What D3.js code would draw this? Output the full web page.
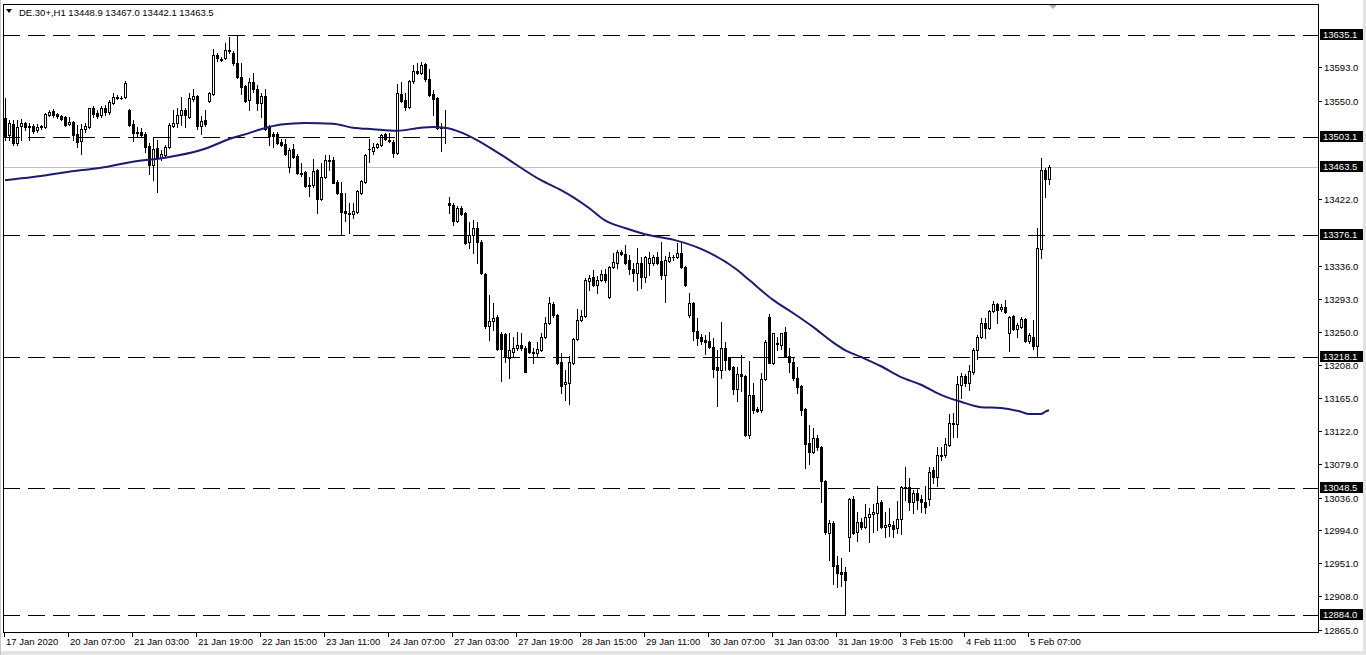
<!DOCTYPE html>
<html>
<head>
<meta charset="utf-8">
<script src="https://cdn.jsdelivr.net/npm/d3@7"></script>
<style>
    body { margin: 0; background: #fff; overflow: hidden; }
    svg text { font-family: "Liberation Sans", Arial, sans-serif; font-size: 9.5px; }
</style>
</head>
<body>
<svg id="chart" width="1366" height="655"></svg>
<script>
// DE.30+ H1 bars, 17 Jan 2020 -> 5 Feb 2020
const opens = [
    13528, 13505, 13520, 13495, 13517, 13521, 13517, 13517, 13512, 13516,
    13516, 13531, 13537, 13533, 13530, 13529, 13520, 13522, 13507, 13498,
    13513, 13516, 13540, 13534, 13531, 13541, 13535, 13547, 13554, 13554,
    13555, 13538, 13520, 13509, 13509, 13507, 13491, 13467, 13489, 13476,
    13480, 13490, 13517, 13521, 13531, 13538, 13529, 13552, 13556, 13517,
    13525, 13550, 13559, 13609, 13604, 13605, 13614, 13612, 13599, 13581,
    13569, 13551, 13574, 13565, 13547, 13556, 13516, 13507, 13507, 13496,
    13494, 13464, 13487, 13478, 13456, 13458, 13441, 13441, 13460, 13423,
    13451, 13473, 13473, 13445, 13430, 13407, 13404, 13403, 13406, 13430,
    13445, 13487, 13485, 13490, 13493, 13507, 13499, 13496, 13482, 13559,
    13551, 13542, 13575, 13589, 13586, 13598, 13578, 13559, 13554, 13516,
    13516, 13417, 13415, 13394, 13411, 13404, 13367, 13376, 13385, 13367,
    13326, 13258, 13264, 13270, 13248, 13248, 13217, 13224, 13230, 13234,
    13230, 13238, 13224, 13223, 13227, 13244, 13262, 13287, 13272, 13211,
    13183, 13184, 13210, 13241, 13266, 13271, 13316, 13322, 13311, 13318,
    13326, 13296, 13335, 13340, 13354, 13352, 13344, 13332, 13327, 13340,
    13322, 13340, 13340, 13348, 13342, 13324, 13342, 13348, 13348, 13353,
    13335, 13272, 13288, 13252, 13244, 13240, 13239, 13231, 13205, 13201,
    13230, 13217, 13205, 13176, 13196, 13193, 13117, 13169, 13151, 13149,
    13189, 13270, 13210, 13236, 13234, 13250, 13219, 13211, 13191, 13180,
    13151, 13107, 13095, 13113, 13101, 13057, 12990, 13003, 12948, 12939,
    12939, 12985, 13034, 12991, 13004, 12998, 13011, 13015, 13016, 13030,
    12998, 12999, 13000, 12996, 13008, 13048, 13050, 13030, 13042, 13034,
    13030, 13034, 13072, 13063, 13090, 13091, 13104, 13131, 13131, 13182,
    13193, 13184, 13199, 13227, 13244, 13262, 13256, 13278, 13287, 13280,
    13283, 13249, 13271, 13254, 13257, 13267, 13239, 13244, 13232, 13358,
    13460, 13448.9
];
const highs = [
    13553, 13525, 13525, 13525, 13526, 13522, 13521, 13520, 13520, 13519,
    13534, 13538, 13539, 13534, 13531, 13530, 13529, 13524, 13518, 13520,
    13521, 13541, 13543, 13538, 13543, 13544, 13551, 13560, 13557, 13556,
    13576, 13539, 13525, 13516, 13514, 13509, 13495, 13503, 13499, 13486,
    13493, 13521, 13538, 13540, 13555, 13540, 13560, 13565, 13557, 13530,
    13538, 13561, 13617, 13612, 13607, 13625, 13632, 13614, 13635.1, 13599,
    13570, 13579, 13586, 13570, 13560, 13565, 13519, 13509, 13509, 13500,
    13500, 13489, 13494, 13481, 13469, 13459, 13451, 13474, 13462, 13469,
    13480, 13480, 13477, 13447, 13445, 13430, 13417, 13417, 13434, 13447,
    13481, 13500, 13495, 13495, 13507, 13508, 13508, 13499, 13572, 13574,
    13560, 13577, 13596, 13599, 13600, 13599, 13591, 13564, 13555, 13521,
    13538, 13425, 13417, 13414, 13414, 13406, 13393, 13395, 13393, 13370,
    13327, 13298, 13288, 13272, 13250, 13249, 13249, 13244, 13250, 13249,
    13232, 13239, 13230, 13237, 13249, 13270, 13296, 13289, 13274, 13223,
    13201, 13219, 13243, 13280, 13279, 13320, 13324, 13331, 13323, 13331,
    13332, 13336, 13353, 13357, 13356, 13363, 13350, 13340, 13359, 13347,
    13349, 13354, 13350, 13354, 13367, 13349, 13354, 13350, 13366, 13366,
    13336, 13301, 13289, 13269, 13248, 13247, 13250, 13243, 13227, 13263,
    13237, 13218, 13206, 13205, 13221, 13195, 13213, 13184, 13153, 13197,
    13240, 13274, 13249, 13244, 13249, 13257, 13230, 13218, 13205, 13182,
    13152, 13130, 13126, 13117, 13103, 13059, 13007, 13006, 12960, 12958,
    12946, 13035, 13038, 13017, 13009, 13028, 13022, 13028, 13051, 13033,
    13017, 13022, 13006, 13031, 13051, 13075, 13061, 13046, 13047, 13039,
    13051, 13075, 13076, 13101, 13101, 13113, 13144, 13146, 13193, 13197,
    13196, 13208, 13230, 13246, 13268, 13268, 13279, 13291, 13288, 13287,
    13292, 13271, 13272, 13262, 13270, 13268, 13249, 13266, 13385, 13476,
    13463, 13467.0
];
const lows = [
    13499, 13499, 13493, 13493, 13499, 13512, 13499, 13508, 13509, 13513,
    13514, 13530, 13529, 13527, 13525, 13517, 13518, 13499, 13490, 13481,
    13509, 13514, 13529, 13527, 13529, 13531, 13533, 13546, 13552, 13552,
    13553, 13517, 13498, 13503, 13503, 13484, 13455, 13447, 13432, 13473,
    13477, 13489, 13516, 13516, 13518, 13516, 13527, 13550, 13513, 13507,
    13517, 13548, 13557, 13601, 13601, 13604, 13612, 13596, 13580, 13558,
    13548, 13538, 13561, 13538, 13529, 13512, 13493, 13490, 13494, 13491,
    13480, 13458, 13476, 13455, 13452, 13438, 13427, 13438, 13405, 13421,
    13450, 13460, 13443, 13429, 13376.1, 13394, 13379, 13398, 13404, 13429,
    13443, 13471, 13481, 13489, 13491, 13499, 13496, 13477, 13481, 13548,
    13538, 13540, 13573, 13584, 13584, 13576, 13556, 13531, 13513, 13485,
    13495, 13405, 13389, 13393, 13402, 13364, 13359, 13353, 13340, 13326,
    13256, 13240, 13253, 13227, 13187, 13211, 13191, 13218, 13227, 13227,
    13198, 13223, 13210, 13218, 13226, 13243, 13261, 13270, 13209, 13171,
    13162, 13157, 13209, 13240, 13265, 13270, 13305, 13310, 13301, 13316,
    13315, 13294, 13333, 13333, 13350, 13339, 13325, 13317, 13305, 13307,
    13315, 13324, 13337, 13339, 13319, 13289, 13341, 13344, 13346, 13333,
    13310, 13270, 13240, 13234, 13235, 13222, 13230, 13192, 13154, 13191,
    13201, 13201, 13170, 13161, 13174, 13116, 13113, 13145, 13147, 13147,
    13188, 13210, 13209, 13227, 13228, 13218, 13199, 13188, 13171, 13143,
    13074, 13079, 13094, 13098, 13030, 12989, 12955, 12924, 12920, 12921,
    12884.0, 12967, 12989, 12980, 12995, 12997, 12978, 12991, 12994, 12997,
    12985, 12986, 12985, 12990, 12989, 13033, 13020, 13016, 13021, 13017,
    13016, 13026, 13055, 13051, 13085, 13089, 13103, 13114, 13114, 13165,
    13180, 13175, 13196, 13215, 13243, 13243, 13254, 13276, 13262, 13278,
    13275, 13226, 13253, 13244, 13256, 13237, 13236, 13228, 13218.1, 13346,
    13425, 13442.1
];
const closes = [
    13503, 13521, 13495, 13516, 13521, 13516, 13516, 13511, 13516, 13517,
    13533, 13535, 13531, 13530, 13526, 13518, 13522, 13505, 13497, 13513,
    13517, 13540, 13533, 13530, 13541, 13535, 13548, 13555, 13555, 13553,
    13573, 13518, 13508, 13508, 13505, 13490, 13467, 13487, 13476, 13481,
    13490, 13518, 13521, 13531, 13538, 13531, 13554, 13556, 13517, 13524,
    13520, 13560, 13609, 13605, 13603, 13616, 13615, 13599, 13581, 13568,
    13550, 13574, 13565, 13547, 13556, 13513, 13504, 13504, 13495, 13493,
    13481, 13486, 13477, 13456, 13455, 13439, 13440, 13459, 13423, 13451,
    13473, 13472, 13444, 13430, 13406, 13404, 13403, 13407, 13433, 13446,
    13480, 13488, 13490, 13494, 13505, 13500, 13498, 13482, 13560, 13550,
    13542, 13575, 13589, 13586, 13596, 13578, 13557, 13552, 13514, 13514,
    13515, 13415, 13394, 13411, 13403, 13366, 13376, 13385, 13367, 13327,
    13258, 13264, 13269, 13228, 13228, 13218, 13227, 13230, 13234, 13230,
    13199, 13224, 13223, 13228, 13244, 13262, 13288, 13272, 13210, 13180,
    13186, 13211, 13241, 13266, 13271, 13318, 13320, 13311, 13318, 13326,
    13318, 13335, 13341, 13354, 13352, 13340, 13332, 13327, 13340, 13322,
    13348, 13346, 13348, 13340, 13324, 13344, 13348, 13347, 13353, 13335,
    13311, 13288, 13252, 13243, 13239, 13237, 13231, 13202, 13201, 13230,
    13214, 13202, 13176, 13196, 13193, 13117, 13169, 13149, 13148, 13189,
    13237, 13210, 13249, 13235, 13249, 13219, 13211, 13191, 13179, 13149,
    13105, 13095, 13113, 13101, 13057, 12991, 13003, 12947, 12938, 12937,
    12929, 13034, 12990, 13004, 12998, 13011, 13015, 13017, 13029, 12998,
    13000, 13002, 12995, 13008, 13050, 13050, 13030, 13042, 13033, 13030,
    13024, 13069, 13063, 13091, 13091, 13105, 13132, 13133, 13183, 13193,
    13184, 13200, 13227, 13244, 13262, 13256, 13278, 13287, 13279, 13283,
    13276, 13270, 13254, 13259, 13267, 13239, 13246, 13232, 13359, 13460,
    13449, 13463.5
];

// moving average at these bar indices
const maIndex = [0, 7, 16, 24, 32, 40, 49, 57, 61, 64, 69, 75, 82, 87, 92, 98, 104, 107, 110, 114,
    118, 124, 134, 139, 142, 146, 150, 155, 160, 167, 174, 183, 186, 192, 197, 202, 207, 210, 214, 219,
    224, 229, 234, 239, 244, 249, 254, 256, 259, 260, 261];
const maValues = [13447, 13451, 13458, 13463, 13471, 13476, 13486, 13502, 13508, 13513, 13519, 13521, 13520, 13515, 13513, 13511, 13515, 13516, 13515, 13509,
    13499, 13480, 13447, 13434, 13425, 13411, 13395, 13385, 13377, 13370, 13358, 13331, 13318, 13292, 13275, 13257, 13237, 13227, 13218, 13206,
    13192, 13182, 13169, 13160, 13153, 13152, 13147, 13144, 13144, 13147, 13149];

const levels = [13635.1, 13503.1, 13376.1, 13218.1, 13048.5, 12884.0];
const lastPrice = 13463.5;
const priceTicks = [13593.0, 13550.0, 13422.0, 13336.0, 13293.0, 13250.0, 13208.0, 13165.0,
    13122.0, 13079.0, 13036.0, 12994.0, 12951.0, 12908.0, 12865.0];
const timeTickIndex = [0, 16, 32, 48, 64, 80, 96, 112, 128, 144, 160, 176, 192, 208, 224, 240, 256];
const timeTickLabels = ["17 Jan 2020", "20 Jan 07:00", "21 Jan 03:00", "21 Jan 19:00", "22 Jan 15:00",
    "23 Jan 11:00", "24 Jan 07:00", "27 Jan 03:00", "27 Jan 19:00", "28 Jan 15:00", "29 Jan 11:00",
    "30 Jan 07:00", "31 Jan 03:00", "31 Jan 19:00", "3 Feb 15:00", "4 Feb 11:00", "5 Feb 07:00"];

const plot = { left: 3, top: 4, right: 1318, bottom: 632 };
const svg = d3.select("#chart");

const bars = closes.map((c, i) => ({ i: i, o: opens[i], h: highs[i], l: lows[i], c: c }));

const x = d3.scaleLinear().domain([0, bars.length - 1]).range([5, 5 + 4 * (bars.length - 1)]);
const y = d3.scaleLinear().domain([12861.8, 13675.2]).range([plot.bottom, plot.top]);
const py = v => Math.round(y(v));

// window background and borders
svg.append("rect").attr("width", 1366).attr("height", 655).attr("fill", "#fff");
svg.append("rect").attr("x", 1363).attr("y", 0).attr("width", 3).attr("height", 655).attr("fill", "#e3e3e3");
svg.append("rect").attr("x", 0).attr("y", 651).attr("width", 1366).attr("height", 4).attr("fill", "#e3e3e3");
svg.append("rect").attr("x", 0).attr("y", 0).attr("width", 1).attr("height", 655).attr("fill", "#c8c8c8");

const chart = svg.append("g").attr("shape-rendering", "crispEdges");

// current price line
chart.append("line")
    .attr("x1", plot.left).attr("x2", plot.right)
    .attr("y1", py(lastPrice) + 0.5).attr("y2", py(lastPrice) + 0.5)
    .attr("stroke", "#c0c0c0").attr("stroke-width", 1);

// candles
const candle = chart.append("g").selectAll("g")
    .data(bars)
    .enter()
    .append("g");

candle.append("rect")
    .attr("x", d => Math.round(x(d.i)))
    .attr("y", d => py(d.h))
    .attr("width", 1)
    .attr("height", d => Math.max(1, py(d.l) - py(d.h) + 1))
    .attr("fill", "#000");

candle.append("rect")
    .attr("x", d => Math.round(x(d.i)) - 1)
    .attr("y", d => py(Math.max(d.o, d.c)))
    .attr("width", 3)
    .attr("height", d => Math.max(1, py(Math.min(d.o, d.c)) - py(Math.max(d.o, d.c)) + 1))
    .attr("fill", "#000");

candle.filter(d => d.c > d.o && py(d.o) - py(d.c) >= 2)
    .append("rect")
    .attr("x", d => Math.round(x(d.i)))
    .attr("y", d => py(d.c) + 1)
    .attr("width", 1)
    .attr("height", d => py(d.o) - py(d.c) - 1)
    .attr("fill", "#fff");

// moving average
const maLine = d3.line()
    .x((d, k) => x(maIndex[k]))
    .y(d => y(d))
    .curve(d3.curveMonotoneX);

svg.append("path")
    .attr("d", maLine(maValues))
    .attr("fill", "none")
    .attr("stroke", "#1b1b72")
    .attr("stroke-width", 2);

// horizontal levels
chart.selectAll(".level")
    .data(levels)
    .enter()
    .append("line")
    .attr("class", "level")
    .attr("x1", plot.left).attr("x2", plot.right)
    .attr("y1", d => py(d) + 0.5).attr("y2", d => py(d) + 0.5)
    .attr("stroke", "#000")
    .attr("stroke-dasharray", "17,8");

// frame
chart.append("rect")
    .attr("x", plot.left + 0.5).attr("y", plot.top + 0.5)
    .attr("width", plot.right - plot.left).attr("height", plot.bottom - plot.top)
    .attr("fill", "none").attr("stroke", "#000");

// price axis
const priceAxis = svg.append("g");
priceAxis.selectAll("line")
    .data(priceTicks)
    .enter()
    .append("line")
    .attr("shape-rendering", "crispEdges")
    .attr("x1", plot.right).attr("x2", plot.right + 4)
    .attr("y1", d => py(d) + 0.5).attr("y2", d => py(d) + 0.5)
    .attr("stroke", "#000");
priceAxis.selectAll("text")
    .data(priceTicks)
    .enter()
    .append("text")
    .attr("x", plot.right + 6)
    .attr("y", d => py(d) + 4)
    .attr("fill", "#000")
    .text(d => d.toFixed(1));

// price labels for levels and last price
const tags = levels.concat([lastPrice]);
const tag = svg.append("g").selectAll("g")
    .data(tags)
    .enter()
    .append("g");
tag.append("rect")
    .attr("shape-rendering", "crispEdges")
    .attr("x", plot.right + 2)
    .attr("y", d => py(d) - 6)
    .attr("width", 43)
    .attr("height", 11)
    .attr("fill", "#000");
tag.append("text")
    .attr("x", plot.right + 5)
    .attr("y", d => py(d) + 3)
    .attr("fill", "#fff")
    .text(d => d.toFixed(1));

// time axis
const timeAxis = svg.append("g");
timeAxis.selectAll("line")
    .data(timeTickIndex)
    .enter()
    .append("line")
    .attr("shape-rendering", "crispEdges")
    .attr("x1", d => Math.round(x(d)) - 0.5).attr("x2", d => Math.round(x(d)) - 0.5)
    .attr("y1", plot.bottom).attr("y2", plot.bottom + 5)
    .attr("stroke", "#000");
timeAxis.selectAll("text")
    .data(timeTickIndex)
    .enter()
    .append("text")
    .attr("x", d => Math.round(x(d)) + 1)
    .attr("y", plot.bottom + 13)
    .attr("fill", "#000")
    .text((d, k) => timeTickLabels[k]);

// header
svg.append("path").attr("d", "M6,9 L12,9 L9,13 Z").attr("fill", "#000");
svg.append("text")
    .attr("x", 19).attr("y", 16)
    .attr("fill", "#000")
    .text("DE.30+,H1  13448.9 13467.0 13442.1 13463.5");

// chart shift marker
svg.append("path").attr("d", "M1049,5 L1057,5 L1053,9 Z").attr("fill", "#b0b0b0");
</script>
</body>
</html>
